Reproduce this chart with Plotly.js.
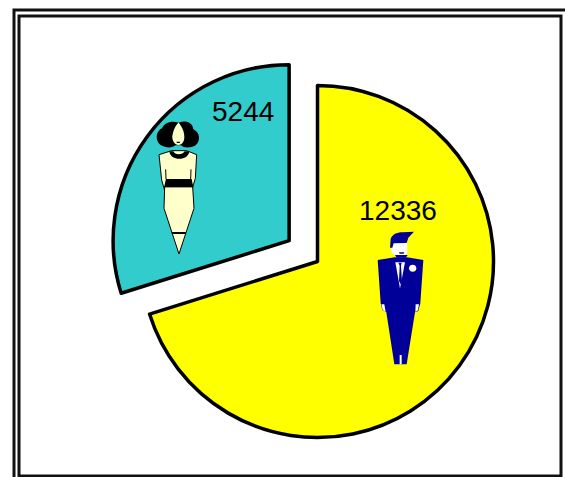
<!DOCTYPE html>
<html>
<head>
<meta charset="utf-8">
<script src="https://cdn.plot.ly/plotly-3.0.0.min.js"></script>
<style>html,body{margin:0;padding:0;background:#fff}#c{width:565px;height:477px}</style>
</head>
<body>
<div id="c"></div>
<script>
var categories = ['Men', 'Women'];
var values = [12336, 5244];
var pulls = [0, 0.2];
var colors = ['#FFFF00', '#33CCCC'];

var W = 565, H = 477;
function pxX(x){return x / W;}
function pxY(y){return 1 - y / H;}
// Converts an icon outline given in zoomed pixels to paper coordinates
function icon(ox, oy, d){
  return d.replace(/(-?[\d.]+),(-?[\d.]+)/g, function(m, x, y){
    return pxX(ox + x / 3).toFixed(5) + ',' + pxY(oy + y / 3).toFixed(5);
  });
}
function shp(ox, oy, d, fill, lineColor, lw){
  return {type:'path', xref:'paper', yref:'paper', path:icon(ox, oy, d),
    fillcolor:fill, line:{color:lineColor || fill, width:lw === undefined ? 0 : lw}};
}
function frame(x0, y0, x1, y1, w){
  return {type:'rect', xref:'paper', yref:'paper', x0:pxX(x0), x1:pxX(x1), y0:pxY(y0), y1:pxY(y1),
    line:{color:'#111', width:w}, fillcolor:'rgba(0,0,0,0)'};
}

var WX = 140, WY = 110, CREAM = '#FFFFCC', K = '#000';
var woman = [
  // hair
  shp(WX, WY, 'M58,102 C44,85 50,62 66,55 C72,38 95,30 116,38 C135,30 158,36 160,58 C178,65 184,92 167,106 C150,116 130,114 124,106 L106,106 C96,116 72,114 58,102 Z', K),
  // face
  shp(WX, WY, 'M97,78 C100,58 108,44 116,38 C124,48 132,60 133,80 C133,94 127,104 115,105 C103,104 96,92 97,78 Z', CREAM),
  shp(WX, WY, 'M109,95 L121,95 L119,99 L111,99 Z', K),
  // upper body with arms
  shp(WX, WY, 'M57,134 L95,122 L140,122 L170,134 L166,205 L156,238 L150,232 L78,232 L73,238 L65,210 Z', CREAM, K, 1),
  // inner arm lines
  shp(WX, WY, 'M77,178 L78,208', 'rgba(0,0,0,0)', K, 1),
  shp(WX, WY, 'M153,178 L152,208', 'rgba(0,0,0,0)', K, 1),
  // collar
  shp(WX, WY, 'M88,124 L100,124 C104,136 128,136 134,124 L148,124 C146,154 90,154 88,124 Z', K),
  // skirt
  shp(WX, WY, 'M74,230 L158,230 L162,295 L117,432 L72,295 Z', CREAM, K, 1),
  // belt
  shp(WX, WY, 'M78,207 L155,207 L160,232 L72,232 Z', K),
  // hem
  shp(WX, WY, 'M95,366 L138,366 L136,372 L97,372 Z', K)
];

var MX = 365, MY = 225, NAVY = '#000099', WHITE = '#FFFFFF';
var man = [
  // face
  shp(MX, MY, 'M78,50 L126,42 L127,84 L120,92 L90,92 L80,84 Z', WHITE),
  // hair
  shp(MX, MY, 'M75,68 L77,42 C82,28 95,22 112,22 L147,20 L130,38 L125,54 L86,55 L82,68 Z', NAVY),
  shp(MX, MY, 'M102,82 L118,82 L116,86 L104,86 Z', NAVY),
  // neck strap
  shp(MX, MY, 'M90,90 L128,90 L122,98 L95,98 Z', NAVY),
  // jacket
  shp(MX, MY, 'M38,105 L90,97 L126,97 L175,105 L166,235 L160,258 L150,262 L125,418 L88,418 L64,262 L52,255 L47,235 Z', NAVY),
  // hands
  shp(MX, MY, 'M49,238 L58,238 L62,261 L53,255 Z', WHITE),
  shp(MX, MY, 'M152,238 L162,238 L159,256 L151,261 Z', WHITE),
  // shirt
  shp(MX, MY, 'M91,112 L120,112 L105,190 Z', WHITE),
  // tie
  shp(MX, MY, 'M100,113 L110,113 L108,122 L111,168 L107,178 L102,168 L104,122 Z', NAVY),
  // buttonhole flower
  shp(MX, MY, 'M132,130 C132,116 154,116 154,130 C154,144 132,144 132,130 Z', WHITE),
  // leg gap
  shp(MX, MY, 'M104,390 L110,390 L110,418 L104,418 Z', WHITE)
];

var shapes = [
  frame(14, 10, 600, 490, 3),
  frame(19, 16, 561, 476, 3)
].concat(woman, man);

var data = [{
  type:'pie', labels:categories, values:values, pull:pulls, sort:false, direction:'clockwise', rotation:0,
  marker:{colors:colors, line:{color:'#000', width:3.5}}, textinfo:'none', hoverinfo:'label+value',
  domain:{x:[(317.5 - 211.2) / W, (317.5 + 211.2) / W], y:[1 - (261.5 + 211.2) / H, 1 - (261.5 - 211.2) / H]}
}];

var labelFont = {family:'"Liberation Sans", Arial, sans-serif', size:28, color:'#000'};
var annotations = [
  {xref:'paper', yref:'paper', x:pxX(398), y:pxY(210), text:String(values[0]), showarrow:false, font:labelFont, xanchor:'center', yanchor:'middle'},
  {xref:'paper', yref:'paper', x:pxX(243), y:pxY(112), text:String(values[1]), showarrow:false, font:labelFont, xanchor:'center', yanchor:'middle'}
];

Plotly.newPlot('c', data, {
  width:W, height:H, margin:{l:0, r:0, t:0, b:0}, showlegend:false,
  paper_bgcolor:'#fff', shapes:shapes, annotations:annotations
}, {displayModeBar:false, staticPlot:true});
</script>
</body>
</html>
